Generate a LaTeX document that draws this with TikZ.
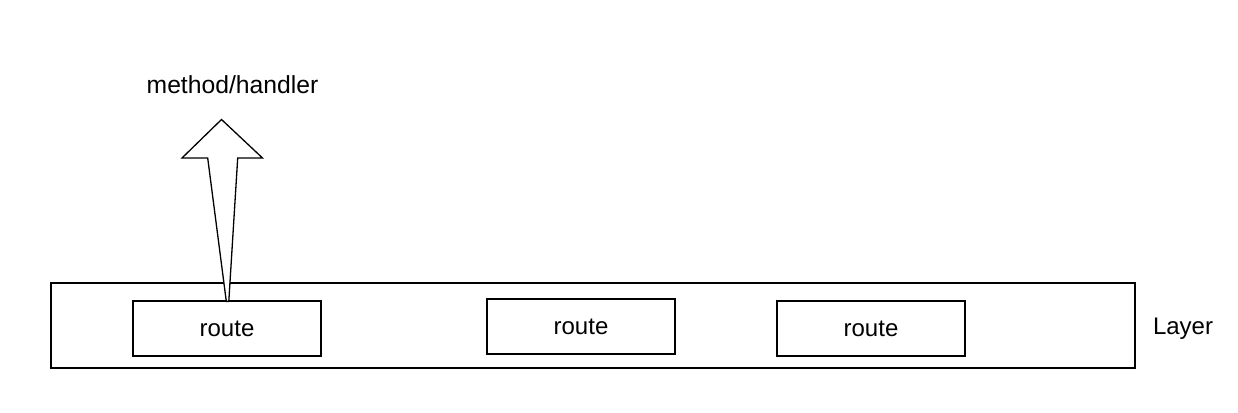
\documentclass[tikz,border=0pt]{standalone}
\usepackage{fontspec}
\setmainfont{Liberation Sans}
\begin{document}
\begin{tikzpicture}[x=1pt,y=-1pt,
  box/.style={draw=black,line width=1.3pt,fill=white,inner sep=0pt},
  routebox/.style={box,minimum width=188pt,minimum height=55pt,font=\fontsize{24}{28}\selectfont,text height=16.6pt,text depth=0pt},
  lbl/.style={inner sep=0pt,font=\fontsize{24}{28}\selectfont},
  blockarrow/.style={draw=black,line width=1.3pt,fill=white,line join=miter}]
\useasboundingbox (0,0) rectangle (1238,412);
\node[box,minimum width=1084pt,minimum height=85pt] (layer) at (593,325.5) {};
\node[routebox] (r1) at (227,328.5) {route};
\node[routebox] (r2) at (581,326.5) {route};
\node[routebox] (r3) at (871,328.5) {route};
\node[lbl,anchor=base] (layertxt) at (1183,334.3) {Layer};
\node[lbl,font=\fontsize{24.7}{28}\selectfont] (mh) at (232.5,85) {method/handler};
\coordinate (tipL) at ([xshift=-0.7pt,yshift=-1pt]r1.north);
\coordinate (tipR) at ([xshift=1.8pt,yshift=-1pt]r1.north);
\draw[blockarrow] (tipL) -- (207.7,158) -- (182,158) -- (221.5,119.5) -- (262.5,158) -- (237.7,158) -- (tipR) -- cycle;
\end{tikzpicture}
\end{document}
